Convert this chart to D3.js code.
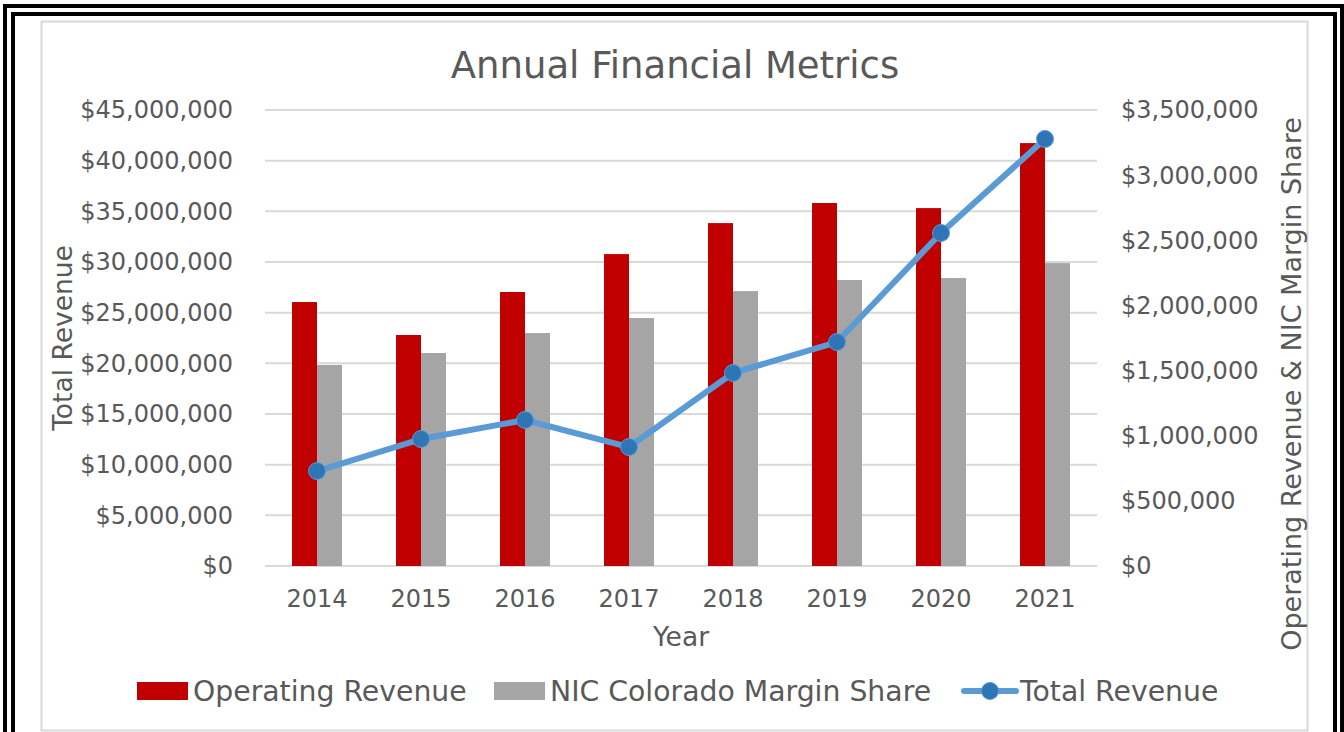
<!DOCTYPE html>
<html>
<head>
<meta charset="utf-8">
<script src="https://cdn.jsdelivr.net/npm/d3@7"></script>
<style>
  html, body { margin: 0; padding: 0; background: #fff; }
  svg { display: block; }
  text { font-family: Verdana, "DejaVu Sans", sans-serif; fill: #595959; }
</style>
</head>
<body>
<svg id="chart" width="1344" height="732"></svg>
<script>
// Chart data
const years = ['2014', '2015', '2016', '2017', '2018', '2019', '2020', '2021'];
const operatingRevenue = [2026000, 1773000, 2103000, 2394000, 2632000, 2786000, 2747000, 3246000];
const nicMarginShare = [1543000, 1635000, 1788000, 1903000, 2110000, 2195000, 2210000, 2325000];
const totalRevenue = [9370000, 12530000, 14410000, 11740000, 19050000, 22100000, 32860000, 42140000];
const leftTicks = [0, 5e6, 10e6, 15e6, 20e6, 25e6, 30e6, 35e6, 40e6, 45e6];
const rightTicks = [0, 5e5, 1e6, 1.5e6, 2e6, 2.5e6, 3e6, 3.5e6];
const seriesNames = ['Operating Revenue', 'NIC Colorado Margin Share', 'Total Revenue'];

const colors = { op: '#C00000', nic: '#A5A5A5', line: '#5B9BD5', marker: '#2E75B6' };

const svg = d3.select('#chart');

// Frame: double black border plus light chart area border
svg.append('rect').attr('x', 5).attr('y', 6).attr('width', 1337).attr('height', 740)
  .attr('fill', 'none').attr('stroke', '#000').attr('stroke-width', 4);
svg.append('rect').attr('x', 13).attr('y', 14).attr('width', 1322).attr('height', 740)
  .attr('fill', 'none').attr('stroke', '#000').attr('stroke-width', 4);
svg.append('rect').attr('x', 41.5).attr('y', 21.5).attr('width', 1266).attr('height', 709)
  .attr('fill', '#fff').attr('stroke', '#d9d9d9').attr('stroke-width', 2);

// Plot area
const plot = { left: 265, right: 1097, top: 110, bottom: 566 };

const x = d3.scaleBand().domain(years).range([plot.left, plot.right]);
const yLeft = d3.scaleLinear().domain([0, 45e6]).range([plot.bottom, plot.top]);
const yRight = d3.scaleLinear().domain([0, 3.5e6]).range([plot.bottom, plot.top]);
const barWidth = 25;
const xSub = d3.scaleBand().domain(['op', 'nic'])
  .range([-barWidth, barWidth]);

const money = d3.format('$,');

// Gridlines
svg.append('g')
  .selectAll('line')
  .data(leftTicks)
  .join('line')
  .attr('x1', plot.left).attr('x2', plot.right)
  .attr('y1', d => yLeft(d)).attr('y2', d => yLeft(d))
  .attr('stroke', '#d9d9d9').attr('stroke-width', 2);

// Left axis labels
svg.append('g')
  .selectAll('text')
  .data(leftTicks)
  .join('text')
  .attr('x', 233).attr('y', d => yLeft(d)).attr('dy', '0.35em')
  .attr('text-anchor', 'end').attr('font-size', 24)
  .text(d => money(d));

// Right axis labels
svg.append('g')
  .selectAll('text')
  .data(rightTicks)
  .join('text')
  .attr('x', 1121).attr('y', d => yRight(d)).attr('dy', '0.35em')
  .attr('text-anchor', 'start').attr('font-size', 24)
  .text(d => money(d));

// Bars
const barData = years.map((yr, i) => [
  { year: yr, key: 'op', value: operatingRevenue[i] },
  { year: yr, key: 'nic', value: nicMarginShare[i] }
]).flat();

svg.append('g')
  .selectAll('rect')
  .data(barData)
  .join('rect')
  .attr('x', d => x(d.year) + x.bandwidth() / 2 + xSub(d.key))
  .attr('width', xSub.bandwidth())
  .attr('y', d => yRight(d.value))
  .attr('height', d => plot.bottom - yRight(d.value))
  .attr('fill', d => colors[d.key]);

// Total revenue line
const lineData = years.map((yr, i) => ({ year: yr, value: totalRevenue[i] }));
const line = d3.line()
  .x(d => x(d.year) + x.bandwidth() / 2)
  .y(d => yLeft(d.value));

svg.append('path')
  .datum(lineData)
  .attr('d', line)
  .attr('fill', 'none')
  .attr('stroke', colors.line)
  .attr('stroke-width', 6)
  .attr('stroke-linejoin', 'round')
  .attr('stroke-linecap', 'round');

svg.append('g')
  .selectAll('circle')
  .data(lineData)
  .join('circle')
  .attr('cx', d => x(d.year) + x.bandwidth() / 2)
  .attr('cy', d => yLeft(d.value))
  .attr('r', 8.5)
  .attr('fill', colors.marker)
  .attr('stroke', colors.line)
  .attr('stroke-width', 1);

// X axis labels
svg.append('g')
  .selectAll('text')
  .data(years)
  .join('text')
  .attr('x', d => x(d) + x.bandwidth() / 2)
  .attr('y', 607)
  .attr('text-anchor', 'middle').attr('font-size', 24)
  .text(d => d);

// Title and axis titles
svg.append('text')
  .attr('x', 675).attr('y', 78)
  .attr('text-anchor', 'middle').attr('font-size', 37)
  .text('Annual Financial Metrics');

svg.append('text')
  .attr('x', 681).attr('y', 646)
  .attr('text-anchor', 'middle').attr('font-size', 26.5)
  .text('Year');

svg.append('text')
  .attr('transform', 'translate(72,338) rotate(-90)')
  .attr('text-anchor', 'middle').attr('font-size', 26.5)
  .text('Total Revenue');

svg.append('text')
  .attr('transform', 'translate(1301,384) rotate(-90)')
  .attr('text-anchor', 'middle').attr('font-size', 27)
  .text('Operating Revenue & NIC Margin Share');

// Legend
const legend = svg.append('g');
const legendY = 691;

legend.append('rect').attr('x', 137).attr('y', legendY - 9).attr('width', 51).attr('height', 18)
  .attr('fill', colors.op);
legend.append('text').attr('x', 193).attr('y', legendY).attr('dy', '0.35em')
  .attr('font-size', 28.3).text(seriesNames[0]);

legend.append('rect').attr('x', 494).attr('y', legendY - 9).attr('width', 51).attr('height', 18)
  .attr('fill', colors.nic);
legend.append('text').attr('x', 550).attr('y', legendY).attr('dy', '0.35em')
  .attr('font-size', 28.3).text(seriesNames[1]);

legend.append('line').attr('x1', 964).attr('x2', 1016).attr('y1', legendY).attr('y2', legendY)
  .attr('stroke', colors.line).attr('stroke-width', 6).attr('stroke-linecap', 'round');
legend.append('circle').attr('cx', 990).attr('cy', legendY).attr('r', 8.5)
  .attr('fill', colors.marker).attr('stroke', colors.line).attr('stroke-width', 1);
legend.append('text').attr('x', 1020).attr('y', legendY).attr('dy', '0.35em')
  .attr('font-size', 28.3).text(seriesNames[2]);
</script>
</body>
</html>
